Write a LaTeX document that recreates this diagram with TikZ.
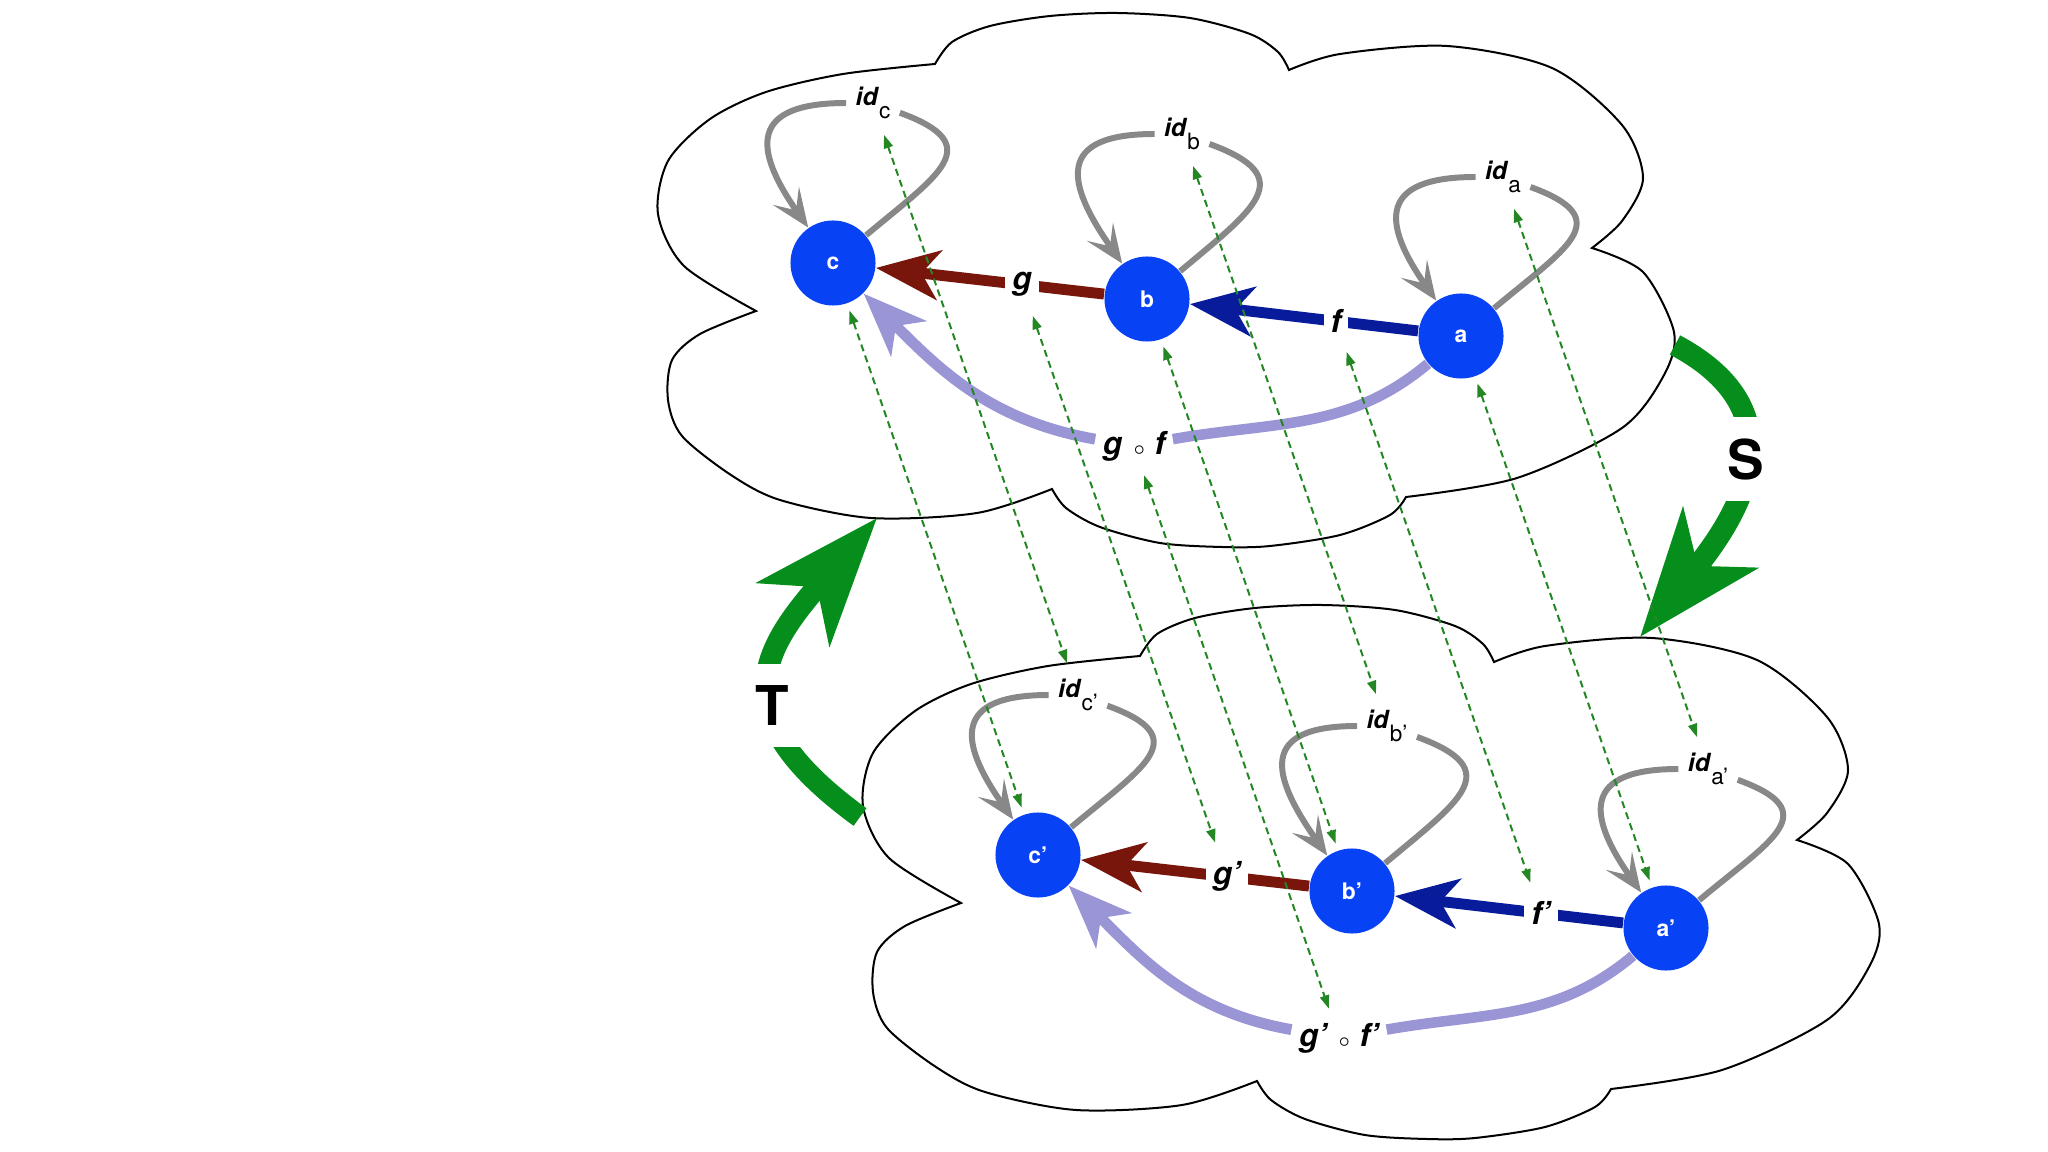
\documentclass[tikz,border=0pt]{standalone}
\usepackage{fontspec}
\setmainfont{TeX Gyre Heros}
\usetikzlibrary{arrows.meta}

\definecolor{objblue}{RGB}{8,66,245}
\definecolor{gred}{RGB}{120,22,12}
\definecolor{fblue}{RGB}{8,28,155}
\definecolor{gfpurple}{RGB}{154,150,214}
\definecolor{idgray}{RGB}{136,136,136}
\definecolor{funcgreen}{RGB}{6,142,28}
\definecolor{corrgreen}{RGB}{35,135,35}

\newcommand{\idof}[1]{\textbf{\textit{id}}\raisebox{-3.6pt}{\fontsize{6.4pt}{7pt}\selectfont #1}}
\newcommand{\ringop}{\hspace{3pt}{\normalfont\fontsize{4pt}{4pt}\selectfont$\circ$}\hspace{2.5pt}}

\tikzset{
  cloud/.pic={
    \draw[line width=0.57pt]
      plot[smooth] coordinates {(756,311) (684,266) (658,214) (668,161) (710,119) (766,92) (843,74) (935,64)}
      -- plot[smooth] coordinates {(935,64) (952,42) (990,26) (1050,16) (1117,13) (1190,18) (1250,34) (1278,52) (1289,70)}
      -- plot[smooth] coordinates {(1289,70) (1340,54) (1447,46) (1552,68) (1622,125) (1643,178) (1622,221) (1592,248)}
      -- plot[smooth] coordinates {(1592,248) (1643,272) (1674,332) (1664,375) (1622,428) (1517,478) (1406,497)}
      -- plot[smooth] coordinates {(1406,497) (1390,515) (1340,535) (1270,546) (1222,547) (1160,543) (1100,527) (1066,508) (1052,489)}
      -- plot[smooth] coordinates {(1052,489) (977,513) (871,518) (780,500) (731,475) (682,436) (668,400) (672,360) (700,334) (756,311)}
      -- cycle;
  },
  obj/.style={circle, fill=objblue, inner sep=0pt, minimum size=0.85cm, text=white,
    font=\fontsize{6.5pt}{7pt}\selectfont\bfseries},
  lbl/.style={fill=white, text=black, inner sep=2pt, font=\fontsize{9pt}{10pt}\selectfont\bfseries\itshape},
  idlbl/.style={inner sep=2.5pt, font=\fontsize{7.1pt}{8pt}\selectfont},
  morph/.style={line width=3.1pt, -{Stealth[length=18pt, width=14pt, inset=5pt]}},
  idline/.style={idgray, line width=1.7pt},
  idtip/.style={-{Stealth[length=11pt, width=9pt, inset=5pt]}},
  corr/.style={corrgreen, line width=0.57pt, dash pattern=on 2pt off 1.3pt,
    shorten <=2pt, shorten >=2pt,
    {Triangle[length=3.8pt, width=2.6pt]}-{Triangle[length=3.8pt, width=2.6pt]}},
  functor/.style={funcgreen, line width=6.2pt, -{Stealth[length=36pt, width=27pt, inset=10pt]}},
  fname/.style={fill=white, text=black, inner xsep=4pt, inner ysep=6.2pt,
    font=\fontsize{15.6pt}{18pt}\selectfont\bfseries}
}

\begin{document}
\begin{tikzpicture}[x=0.01cm, y=-0.01cm]
\useasboundingbox (0,0) rectangle (2048,1152);

% the two categories
\pic at (0,0) {cloud};
\pic at (205,592) {cloud};

% first category
\node[obj] (c) at (833, 263) {c};
\node[obj] (b) at (1147, 299) {b};
\node[obj] (a) at (1461, 336) {a};

\node[idlbl] (idc) at (873, 103) {\idof{c}};
\node[idlbl] (idb) at (1182, 134) {\idof{b}};
\node[idlbl] (ida) at (1503, 177) {\idof{a}};
\node[lbl] (gf) at (1134, 446) {g\ringop f};

\draw[morph, gred] (b) -- node[lbl, pos=0.36] (g) {g} (c);
\draw[morph, fblue] (a) -- node[lbl, pos=0.36] (f) {f} (b);
\draw[gfpurple, line width=3pt] (a) to[out=220, in=10] (gf);
\draw[morph, gfpurple] (gf) to[out=170, in=-45] (c);

\draw[idline] (c) to[out=40, in=-20, looseness=1.9] (idc);
\draw[idline, idtip] (idc) to[out=180, in=125, looseness=1.9] (c);
\draw[idline] (b) to[out=40, in=-20, looseness=1.9] (idb);
\draw[idline, idtip] (idb) to[out=180, in=125, looseness=1.9] (b);
\draw[idline] (a) to[out=40, in=-20, looseness=1.9] (ida);
\draw[idline, idtip] (ida) to[out=180, in=125, looseness=1.9] (a);

% second category
\begin{scope}[shift={(205,592)}]
  \node[obj] (cp) at (833, 263) {c’};
  \node[obj] (bp) at (1147, 299) {b’};
  \node[obj] (ap) at (1461, 336) {a’};

  \node[idlbl] (idcp) at (873, 103) {\idof{c’}};
  \node[idlbl] (idbp) at (1182, 134) {\idof{b’}};
  \node[idlbl] (idap) at (1503, 177) {\idof{a’}};
  \node[lbl] (gfp) at (1134, 446) {g’\ringop f’};

  \draw[morph, gred] (bp) -- node[lbl, pos=0.36] (gp) {g’} (cp);
  \draw[morph, fblue] (ap) -- node[lbl, pos=0.36] (fp) {f’} (bp);
  \draw[gfpurple, line width=3pt] (ap) to[out=220, in=10] (gfp);
  \draw[morph, gfpurple] (gfp) to[out=170, in=-45] (cp);

  \draw[idline] (cp) to[out=40, in=-20, looseness=1.9] (idcp);
  \draw[idline, idtip] (idcp) to[out=180, in=125, looseness=1.9] (cp);
  \draw[idline] (bp) to[out=40, in=-20, looseness=1.9] (idbp);
  \draw[idline, idtip] (idbp) to[out=180, in=125, looseness=1.9] (bp);
  \draw[idline] (ap) to[out=40, in=-20, looseness=1.9] (idap);
  \draw[idline, idtip] (idap) to[out=180, in=125, looseness=1.9] (ap);
\end{scope}

% functors S and T
\coordinate (sfrom) at (1675, 345);
\coordinate (sto) at (1640, 637);
\draw[functor] (sfrom) to[out=-28, in=51, looseness=1.3] node[fname, pos=0.45] (S) {S} (sto);
\coordinate (tfrom) at (860, 817);
\coordinate (tto) at (877, 518);
\draw[functor] (tfrom) to[out=144, in=-131, looseness=1.49] node[fname, pos=0.4] (T) {T} (tto);

% correspondences
\draw[corr] (idc) -- (idcp);
\draw[corr] (idb) -- (idbp);
\draw[corr] (ida) -- (idap);
\draw[corr] (c) -- (cp);
\draw[corr] (g) -- (gp);
\draw[corr] (b) -- (bp);
\draw[corr] (f) -- (fp);
\draw[corr] (a) -- (ap);
\draw[corr] (gf) -- (gfp);
\end{tikzpicture}
\end{document}
